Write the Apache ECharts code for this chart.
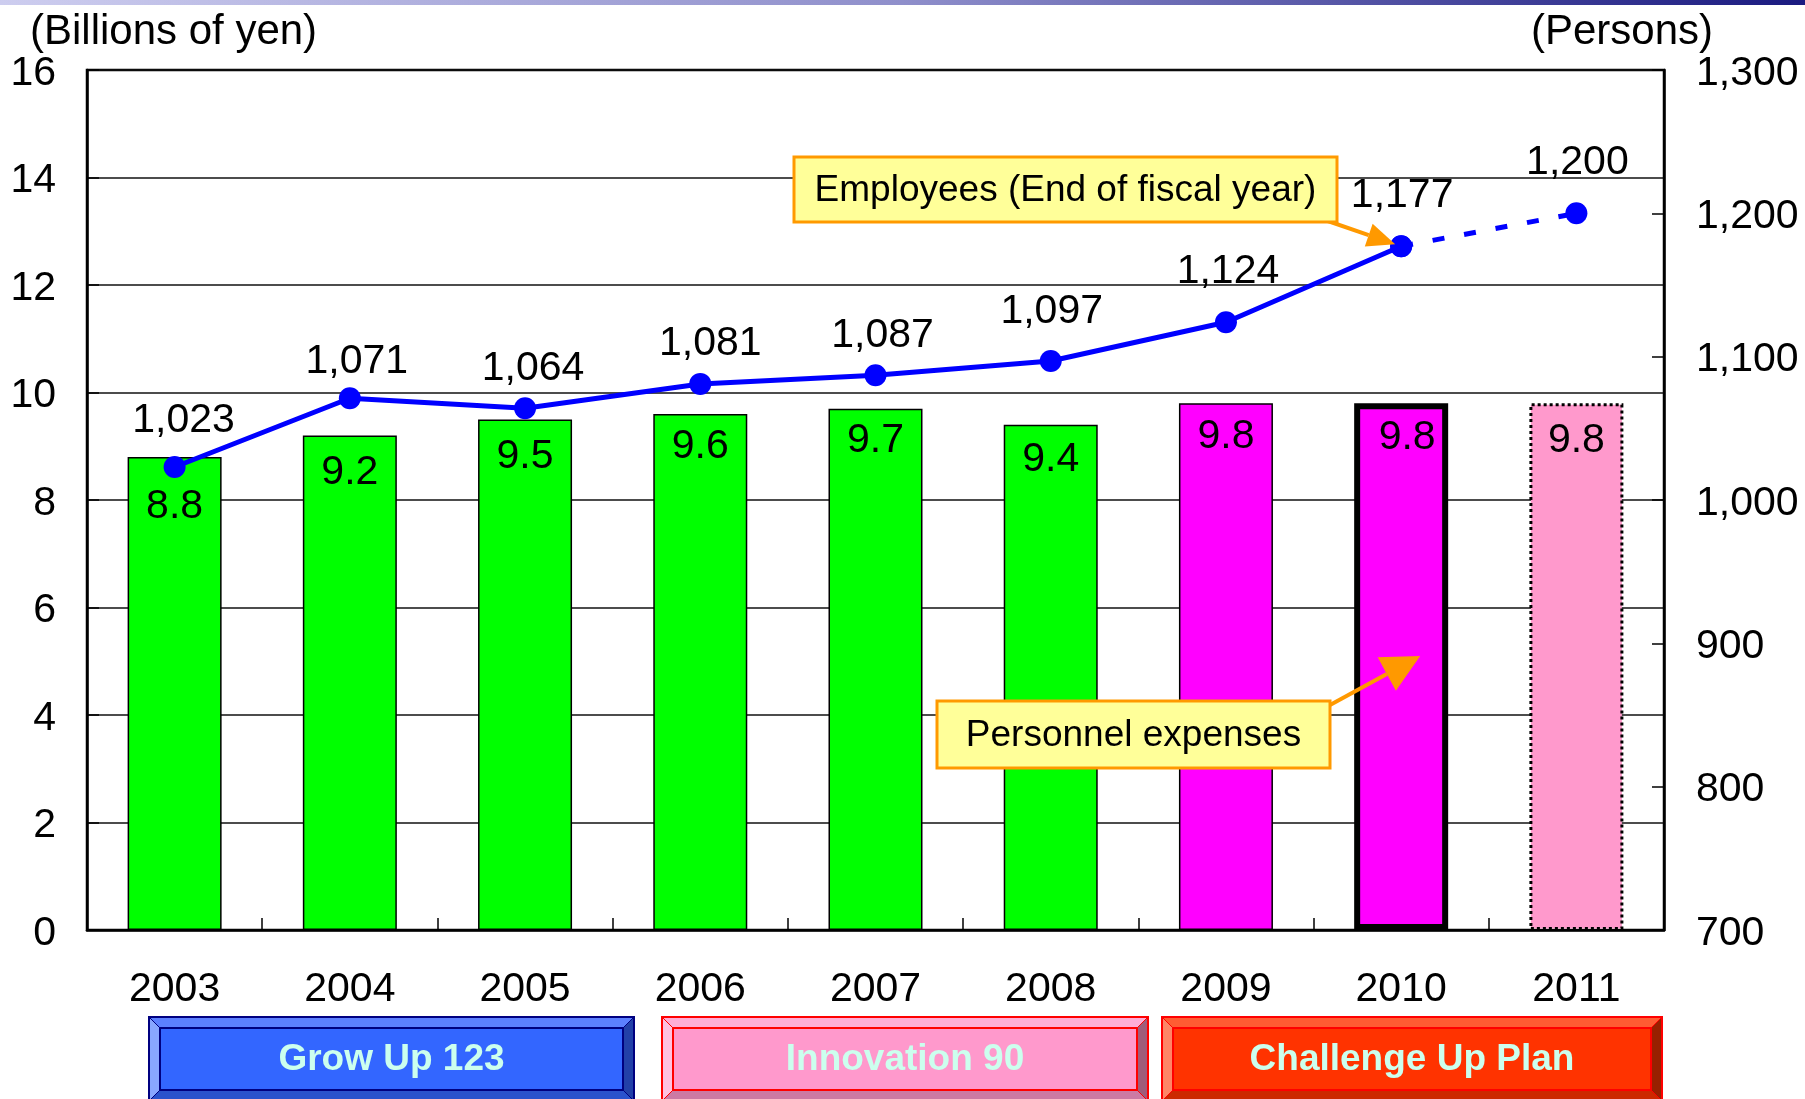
<!DOCTYPE html>
<html>
<head>
<meta charset="utf-8">
<script src="https://cdn.jsdelivr.net/npm/echarts@6/dist/echarts.min.js"></script>
<style>
  html, body { margin: 0; padding: 0; background: #fff; }
  #main { width: 1805px; height: 1099px; }
</style>
</head>
<body>
<div id="main"></div>
<script>
// Personnel expenses (bars, left axis) and employees (line, right axis)
const years = ['2003', '2004', '2005', '2006', '2007', '2008', '2009', '2010', '2011']
const expenses = [8.8, 9.2, 9.5, 9.6, 9.7, 9.4, 9.8, 9.8, 9.8]
const employees = [1023, 1071, 1064, 1081, 1087, 1097, 1124, 1177, 1200]
const leftTicks = [0, 2, 4, 6, 8, 10, 12, 14, 16]
const rightTicks = [700, 800, 900, 1000, 1100, 1200, 1300]
const plans = ['Grow Up 123', 'Innovation 90', 'Challenge Up Plan']

const FONT = '"Liberation Sans", Arial, sans-serif'
const lastActual = 7 // 2010 is the last actual year, 2011 is a plan

// small label nudges so numbers sit like the original
const barLabelGap = [29, 17, 17, 12, 12, 14, 13, 14, 17]
const barLabelShift = [0, 0, 0, 0, 0, 0, 0, 6, 0]
const lineLabelGap = [15, 5, 8, 9, 8, 18, 19, 19, 19]
const lineLabelShift = [9, 7, 8, 10, 7, 1, 2, 1, 1]

function barStyle(i) {
  if (i < 6) return { color: '#00FF00', borderColor: '#000', borderWidth: 1.5 }
  if (i === 6) return { color: '#FF00FF', borderColor: '#000', borderWidth: 1.5 }
  if (i === 7) return { color: '#FF00FF', borderColor: '#000', borderWidth: 6 }
  return { color: '#FF99CC', borderColor: '#000', borderWidth: 3, borderType: 'dotted' }
}

function lineItem(v, i, show) {
  return {
    value: v,
    label: {
      show,
      distance: lineLabelGap[i],
      offset: [lineLabelShift[i], 0],
    },
  }
}

// tick text sits a little lower than the tick in the original
const tickRich = { t: { fontSize: 41, color: '#000', fontFamily: FONT, padding: [7, 0, 0, 0] } }

const chart = echarts.init(document.getElementById('main'))

const option = {
  animation: false,
  backgroundColor: '#fff',
  grid: {
    left: 87,
    right: 141,
    top: 70,
    bottom: 169,
    show: true,
    borderColor: '#000',
    borderWidth: 2.5,
  },
  xAxis: {
    type: 'category',
    data: years,
    axisLine: { show: true, lineStyle: { color: '#000', width: 2.5 } },
    axisTick: { show: true, inside: true, length: 12, lineStyle: { color: '#000', width: 1.5 } },
    axisLabel: { margin: 39, fontSize: 41, color: '#000', fontFamily: FONT, interval: 0 },
  },
  yAxis: [
    {
      type: 'value',
      min: leftTicks[0],
      max: leftTicks[leftTicks.length - 1],
      interval: leftTicks[1] - leftTicks[0],
      axisLine: { show: true, lineStyle: { color: '#000', width: 2.5 } },
      axisTick: { show: true, inside: true, length: 12, lineStyle: { color: '#000', width: 1.5 } },
      axisLabel: {
        margin: 31,
        fontSize: 41,
        color: '#000',
        fontFamily: FONT,
        formatter: v => '{t|' + v + '}',
        rich: tickRich,
      },
      splitLine: { show: true, lineStyle: { color: '#111', width: 1.5 } },
    },
    {
      type: 'value',
      position: 'right',
      min: rightTicks[0],
      max: rightTicks[rightTicks.length - 1],
      interval: rightTicks[1] - rightTicks[0],
      axisLine: { show: true, lineStyle: { color: '#000', width: 2.5 } },
      axisTick: { show: true, inside: true, length: 12, lineStyle: { color: '#000', width: 1.5 } },
      axisLabel: {
        margin: 32,
        fontSize: 41,
        color: '#000',
        fontFamily: FONT,
        formatter: v => '{t|' + v.toLocaleString('en-US') + '}',
        rich: tickRich,
      },
      splitLine: { show: false },
    },
  ],
  series: [
    {
      name: 'Personnel expenses',
      type: 'bar',
      barWidth: 94,
      data: expenses.map((v, i) => ({
        value: v,
        itemStyle: barStyle(i),
        label: { distance: barLabelGap[i], offset: [barLabelShift[i], 0] },
      })),
      label: {
        show: true,
        position: 'insideTop',
        fontSize: 41,
        color: '#000',
        fontFamily: FONT,
        formatter: p => p.value.toFixed(1),
      },
    },
    {
      name: 'Employees',
      type: 'line',
      yAxisIndex: 1,
      symbol: 'circle',
      symbolSize: 22,
      color: '#0000FF',
      lineStyle: { color: '#0000FF', width: 5 },
      data: employees.map((v, i) => (i <= lastActual ? lineItem(v, i, true) : '-')),
      label: {
        show: true,
        position: 'top',
        fontSize: 41,
        color: '#000',
        fontFamily: FONT,
        formatter: p => p.value.toLocaleString('en-US'),
      },
      z: 5,
    },
    {
      name: 'Employees (plan)',
      type: 'line',
      yAxisIndex: 1,
      symbol: 'circle',
      symbolSize: 22,
      color: '#0000FF',
      lineStyle: { color: '#0000FF', width: 5, type: [12, 20] },
      data: employees.map((v, i) => (i >= lastActual ? lineItem(v, i, i > lastActual) : '-')),
      label: {
        position: 'top',
        fontSize: 41,
        color: '#000',
        fontFamily: FONT,
        formatter: p => p.value.toLocaleString('en-US'),
      },
      z: 4,
    },
  ],
}

chart.setOption(option)

// ---- decorations: titles, callouts, plan bands ----
function poly(points, fill, stroke) {
  return { type: 'polygon', shape: { points }, style: { fill, stroke, lineWidth: 1 }, silent: true }
}

function bevelBox(x0, y0, w, h, b, c, text) {
  const x1 = x0 + w
  const y1 = y0 + h
  return [
    poly([[x0, y0], [x1, y0], [x1 - b, y0 + b], [x0 + b, y0 + b]], c.top, c.line),
    poly([[x0, y0], [x0 + b, y0 + b], [x0 + b, y1 - b], [x0, y1]], c.left, c.line),
    poly([[x1, y0], [x1, y1], [x1 - b, y1 - b], [x1 - b, y0 + b]], c.right, c.line),
    poly([[x0, y1], [x0 + b, y1 - b], [x1 - b, y1 - b], [x1, y1]], c.bottom, c.line),
    {
      type: 'rect',
      shape: { x: x0 + b, y: y0 + b, width: w - 2 * b, height: h - 2 * b },
      style: { fill: c.face, stroke: c.line, lineWidth: 2 },
    },
    {
      type: 'rect',
      shape: { x: x0, y: y0, width: w, height: h },
      style: { fill: null, stroke: c.line, lineWidth: 2 },
    },
    {
      type: 'text',
      x: x0 + w / 2,
      y: y0 + h / 2 + 1,
      style: {
        text,
        fill: '#CCFFEE',
        font: 'bold 37px ' + FONT,
        align: 'center',
        verticalAlign: 'middle',
      },
    },
  ]
}

function arrow(from, tip, headLen, headWidth) {
  const dx = tip[0] - from[0]
  const dy = tip[1] - from[1]
  const len = Math.sqrt(dx * dx + dy * dy)
  const ux = dx / len
  const uy = dy / len
  const base = [tip[0] - ux * headLen, tip[1] - uy * headLen]
  const px = -uy * headWidth / 2
  const py = ux * headWidth / 2
  return [
    {
      type: 'line',
      z: 100,
      shape: { x1: from[0], y1: from[1], x2: base[0], y2: base[1] },
      style: { stroke: '#FF9900', lineWidth: 4 },
    },
    {
      type: 'polygon',
      z: 100,
      shape: { points: [tip, [base[0] + px, base[1] + py], [base[0] - px, base[1] - py]] },
      style: { fill: '#FF9900' },
    },
  ]
}

function callout(x, y, w, h, text) {
  return [
    {
      type: 'rect',
      z: 100,
      shape: { x, y, width: w, height: h },
      style: { fill: '#FFFF99', stroke: '#FF9900', lineWidth: 3 },
    },
    {
      type: 'text',
      z: 101,
      x: x + w / 2,
      y: y + h / 2 + 1,
      style: { text, fill: '#000', font: '37px ' + FONT, align: 'center', verticalAlign: 'middle' },
    },
  ]
}

const pt2010 = chart.convertToPixel({ xAxisIndex: 0, yAxisIndex: 1 }, [years[lastActual], employees[lastActual]])
const bar2010 = chart.convertToPixel({ xAxisIndex: 0, yAxisIndex: 0 }, [years[lastActual], 5.1])

const graphics = [
  {
    type: 'rect',
    shape: { x: 0, y: 0, width: 1805, height: 5 },
    style: {
      fill: new echarts.graphic.LinearGradient(0, 0, 1, 0, [
        { offset: 0, color: '#CDCDEF' },
        { offset: 0.5, color: '#8F8FCB' },
        { offset: 1, color: '#1A1A80' },
      ]),
    },
  },
  {
    type: 'text',
    x: 30,
    y: 32,
    style: { text: '(Billions of yen)', fill: '#000', font: '42px ' + FONT, align: 'left', verticalAlign: 'middle' },
  },
  {
    type: 'text',
    x: 1713,
    y: 32,
    style: { text: '(Persons)', fill: '#000', font: '42px ' + FONT, align: 'right', verticalAlign: 'middle' },
  },
  ...arrow([1322, 219], [pt2010[0] - 6, pt2010[1] - 2], 28, 24),
  ...callout(794, 157, 543, 65, 'Employees (End of fiscal year)'),
  ...arrow([1330, 705], [bar2010[0] + 19, bar2010[1]], 38, 38),
  ...callout(937, 701, 393, 67, 'Personnel expenses'),
  ...bevelBox(149, 1017, 485, 84, 11, {
    face: '#3366FF', top: '#5C80FF', left: '#88A6FF', right: '#2240A8', bottom: '#2A52CC', line: '#000080',
  }, plans[0]),
  ...bevelBox(662, 1017, 486, 84, 11, {
    face: '#FF99CC', top: '#FFADD6', left: '#FFC2E0', right: '#A05C7A', bottom: '#CC7AA3', line: '#FF0000',
  }, plans[1]),
  ...bevelBox(1162, 1017, 500, 84, 11, {
    face: '#FF3300', top: '#FF5C33', left: '#FF8566', right: '#992000', bottom: '#CC2900', line: '#FF0000',
  }, plans[2]),
]

chart.setOption({ graphic: graphics })
</script>
</body>
</html>
